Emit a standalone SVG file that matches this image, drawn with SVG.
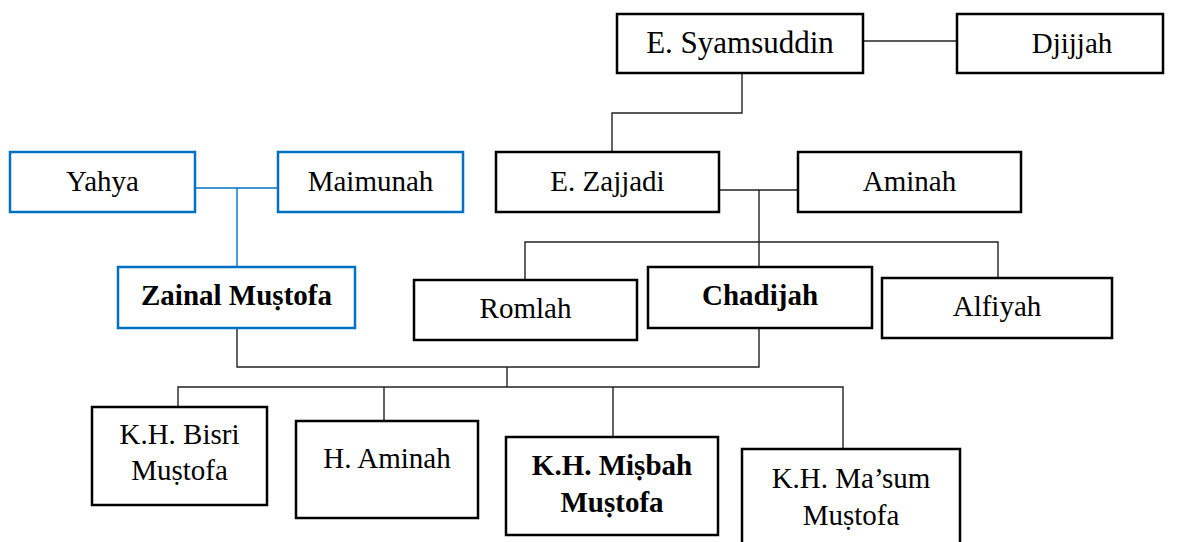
<svg xmlns="http://www.w3.org/2000/svg" width="1179" height="542" viewBox="0 0 1179 542">
<style>
.b{fill:#fff;stroke:#000;stroke-width:2.5}
.bl{fill:#fff;stroke:#0070C0;stroke-width:2.5}
.c{fill:none;stroke:#222;stroke-width:1.4}
.cb{fill:none;stroke:#0070C0;stroke-width:1.4}
text{font-family:"Liberation Serif","Times New Roman",serif;font-size:29px;fill:#000;text-anchor:middle}
.bd{font-weight:bold}
</style>
<rect width="1179" height="542" fill="#fff"/>
<g id="connectors">
<path class="c" d="M863 41H957"/>
<path class="c" d="M742 73V113H612V152"/>
<path class="cb" d="M195 188H278M237 188V267"/>
<path class="c" d="M719 190H798M759 190V267"/>
<path class="c" d="M525 280V242H998V278"/>
<path class="c" d="M237 328V367H759V328"/>
<path class="c" d="M507 367V387"/>
<path class="c" d="M178 407V387H843V449M384 387V421M613 387V437"/>
</g>
<g id="n-syamsuddin"><rect class="b" x="617" y="14" width="246" height="59"/><text x="740" y="53" style="font-size:31px">E. Syamsuddin</text></g>
<g id="n-djijjah"><rect class="b" x="957" y="14" width="206" height="59"/><text x="1072" y="53">Djijjah</text></g>
<g id="n-yahya"><rect class="bl" x="10" y="152" width="185" height="60"/><text x="102.5" y="191">Yahya</text></g>
<g id="n-maimunah"><rect class="bl" x="278" y="152" width="185" height="60"/><text x="370.5" y="191">Maimunah</text></g>
<g id="n-zajjadi"><rect class="b" x="496" y="152" width="223" height="60"/><text x="607.5" y="191">E. Zajjadi</text></g>
<g id="n-aminah"><rect class="b" x="798" y="152" width="223" height="60"/><text x="909.5" y="191">Aminah</text></g>
<g id="n-zainal"><rect class="bl" x="118" y="267" width="237" height="61"/><text class="bd" x="236.5" y="305">Zainal Muṣtofa</text></g>
<g id="n-romlah"><rect class="b" x="414" y="280" width="223" height="60"/><text x="525.5" y="318">Romlah</text></g>
<g id="n-chadijah"><rect class="b" x="648" y="267" width="224" height="61"/><text class="bd" x="760" y="305">Chadijah</text></g>
<g id="n-alfiyah"><rect class="b" x="882" y="278" width="230" height="60"/><text x="997" y="316">Alfiyah</text></g>
<g id="n-bisri"><rect class="b" x="92" y="407" width="175" height="98"/><text x="179.5" y="444">K.H. Bisri</text><text x="179.5" y="480">Muṣtofa</text></g>
<g id="n-haminah"><rect class="b" x="296" y="421" width="182" height="97"/><text x="387" y="468">H. Aminah</text></g>
<g id="n-misbah"><rect class="b" x="506" y="437" width="212" height="98"/><text class="bd" x="612" y="475">K.H. Miṣbah</text><text class="bd" x="612" y="512">Muṣtofa</text></g>
<g id="n-masum"><rect class="b" x="742" y="449" width="218" height="100"/><text x="851" y="488">K.H. Ma’sum</text><text x="851" y="525">Muṣtofa</text></g>
</svg>
